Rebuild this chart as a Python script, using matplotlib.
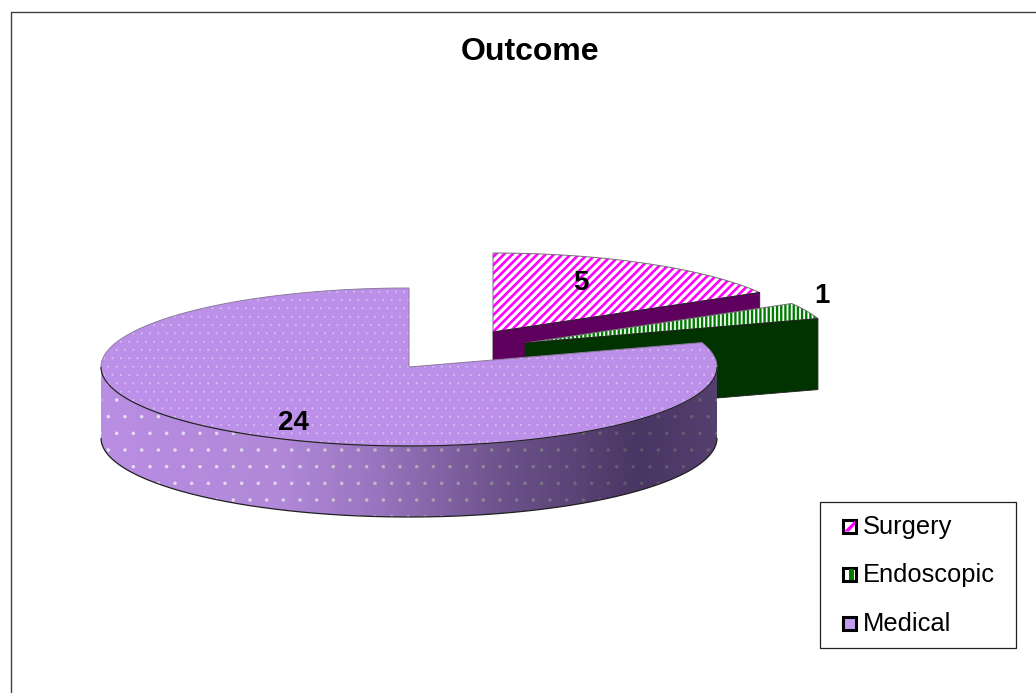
import numpy as np
import matplotlib
matplotlib.use('Agg')
import matplotlib.pyplot as plt
from matplotlib.patches import Polygon, Rectangle

plt.rcParams['font.family'] = ['Liberation Sans', 'DejaVu Sans']

# Chart data
categories = ['Surgery', 'Endoscopic', 'Medical']
values = [5, 1, 24]

top_colors = ['#FF00FF', '#007A00', '#FFFFFF']
wall_colors = ['#5F005F', '#003300', '#B88DE2']
medical_top = '#BC90E8'
legend_colors = ['#FF00FF', '#007A00', '#C39BF0']

# Pie geometry in picture pixels
apexes = [(493, 332), (525, 343), (409, 367)]
rx = 308
ry = 79
depth = 71


def rim(a0, a1, cx, cy):
    # angles run clockwise from twelve o'clock, as in the source chart
    t = np.radians(np.linspace(a0, a1, 200))
    return np.column_stack([cx + rx * np.sin(t), cy - ry * np.cos(t)])


fig = plt.figure(figsize=(10.36, 6.93), dpi=100)
ax = fig.add_axes([0, 0, 1, 1])
ax.set_xlim(0, 1036)
ax.set_ylim(693, 0)
ax.axis('off')

# Chart frame, right and bottom sides fall outside the picture
ax.plot([10.5, 10.5, 1036], [693, 12, 12], color='#404040', lw=1.0)

angles = np.cumsum([0] + values) * 360 / sum(values)

# Surgery and Endoscopic slices, exploded
hatches = ['////', '||||']
hatch_widths = [1.9, 1.7]
for i in range(2):
    a0, a1 = angles[i], angles[i + 1]
    cx, cy = apexes[i]
    outer = rim(a0, a1, cx, cy)
    edge = outer[-1]
    wall = [(cx, cy), edge, (edge[0], edge[1] + depth), (cx, cy + depth)]
    top = np.vstack([[(cx, cy)], outer])
    face = Polygon(top, fc='white', ec=top_colors[i], lw=0, hatch=hatches[i])
    face.set_hatch_linewidth(hatch_widths[i])
    ax.add_patch(face)
    ax.add_patch(Polygon(top, fc='none', ec='#707070', lw=0.7))
    ax.add_patch(Polygon(wall, fc=wall_colors[i], ec='#202020', lw=0.6))

# Medical slice: outer wall
a0, a1 = angles[2], angles[3]
cx, cy = apexes[2]
front = rim(90, 270, cx, cy)
wall_pts = np.vstack([front, (front + [0, depth])[::-1]])
ax.add_patch(Polygon(wall_pts, fc=wall_colors[2], ec='none'))
dots = Polygon(wall_pts, fc='none', ec='#E8E0F0', lw=0, hatch='.')
dots.set_hatch_linewidth(0.1)
ax.add_patch(dots)
# shading gets darker to the right, it also dims the dots
shade = np.interp(np.linspace(0, 1, 256), [0, 0.29, 0.453, 0.648, 0.875, 1], [0, 0.04, 0.18, 0.42, 0.62, 0.56])
rgba = np.zeros((1, 256, 4))
rgba[0, :, :3] = [0.02, 0.0, 0.08]
rgba[0, :, 3] = shade
im = ax.imshow(rgba, extent=(cx - rx, cx + rx, cy + ry + depth, cy - ry), aspect='auto', zorder=2)
im.set_clip_path(Polygon(wall_pts, transform=ax.transData))
ax.set_xlim(0, 1036)
ax.set_ylim(693, 0)
ax.add_patch(Polygon(front + [0, depth], closed=False, fc='none', ec='#202020', lw=0.9, zorder=3))

# Medical slice: top face
outer = rim(a0, a1, cx, cy)
top = np.vstack([[(cx, cy)], outer])
ax.add_patch(Polygon(top, fc=medical_top, ec='none', zorder=3))
dots = Polygon(top, fc='none', ec='#DCC8F4', lw=0, hatch='..', zorder=3)
dots.set_hatch_linewidth(0.1)
ax.add_patch(dots)
ax.add_patch(Polygon(top, fc='none', ec='#8A7A9A', lw=0.7, zorder=4))
ax.add_patch(Polygon(front, closed=False, fc='none', ec='#202020', lw=0.8, zorder=4))

# Value labels
label_pos = [(581, 283), (822, 296), (293, 423)]
for v, (x, y) in zip(values, label_pos):
    ax.text(x, y, str(v), ha='center', va='center', fontsize=20, fontweight='bold', color='black', zorder=5)

# Title
ax.text(530.5, 52, 'Outcome', ha='center', va='center', fontsize=23, fontweight='bold')

# Legend
ax.add_patch(Rectangle((820, 501.5), 196, 146, fc='white', ec='#202020', lw=0.9, zorder=5))
legend_y = [526, 574, 623]
for name, c, y in zip(categories, legend_colors, legend_y):
    if name == 'Medical':
        ax.add_patch(Rectangle((843, y - 6.5), 13, 13, fc=c, ec='black', lw=2.2, zorder=6))
    else:
        ax.add_patch(Rectangle((843, y - 6.5), 13, 13, fc='white', ec='black', lw=2.2, zorder=6))
        if name == 'Surgery':
            ax.add_patch(Polygon([(844, y + 5.5), (855, y - 5.5), (855, y - 1), (849, y + 5.5)], fc=c, ec='none', zorder=6))
        else:
            ax.add_patch(Rectangle((849, y - 5.5), 5, 11, fc=c, ec='none', zorder=6))
    ax.text(862.5, y + 1, name, ha='left', va='center', fontsize=18.4, zorder=6)

fig.savefig('out.png', dpi=100)
